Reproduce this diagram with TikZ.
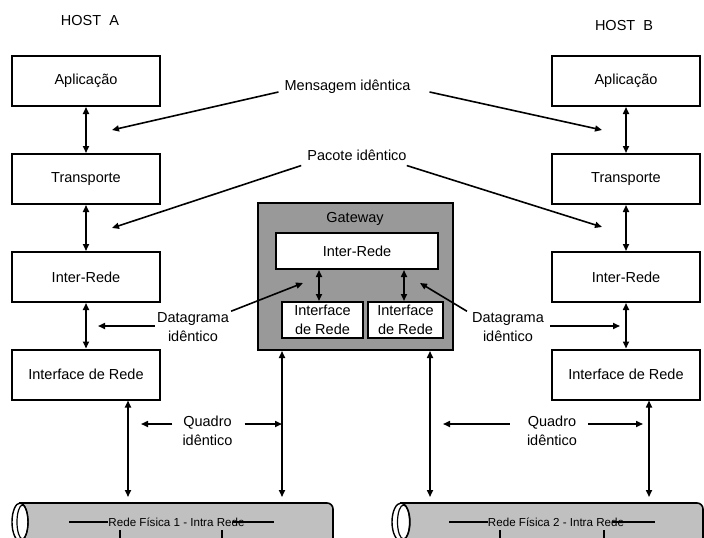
\documentclass[tikz,border=0pt]{standalone}
\usepackage{fontspec}
\setmainfont{Liberation Sans}
\usetikzlibrary{arrows.meta,calc}
\definecolor{gwgray}{HTML}{999999}
\definecolor{pipegray}{HTML}{C0C0C0}
\begin{document}
\begin{tikzpicture}[x=1pt,y=-1pt,
  every node/.style={font=\fontsize{14.5}{19}\selectfont, inner sep=1pt},
  layer/.style={draw, line width=2pt, minimum width=148pt, minimum height=50pt, fill=white},
  conn/.style={line width=1.6pt, -{Triangle[length=7pt,width=6pt]}},
  biconn/.style={line width=1.6pt, {Triangle[length=7pt,width=6pt]}-{Triangle[length=7pt,width=6pt]}},
  lbl/.style={align=center},
  pipe/.style={draw, line width=1.6pt, fill=pipegray},
  pipelbl/.style={font=\fontsize{11.6}{14}\selectfont, inner sep=0pt},
]
\useasboundingbox (0,0) rectangle (704,538);
\clip (0,0) rectangle (704,538);

% ---------- Host A protocol stack ----------
\node (hosta) at (90,21) {HOST\ \ A};
\node[layer] (a1) at (86,81) {Aplicação};
\node[layer] (t1) at (86,179) {Transporte};
\node[layer] (i1) at (86,277) {Inter-Rede};
\node[layer] (n1) at (86,374.5) {Interface de Rede};
\draw[biconn] (a1.south) -- (t1.north);
\draw[biconn] (t1.south) -- (i1.north);
\draw[biconn] (i1.south) -- (n1.north);

% ---------- Host B protocol stack ----------
\node (hostb) at (624,26) {HOST\ \ B};
\node[layer] (a2) at (626,81) {Aplicação};
\node[layer] (t2) at (626,179) {Transporte};
\node[layer] (i2) at (626,277) {Inter-Rede};
\node[layer] (n2) at (626,374.5) {Interface de Rede};
\draw[biconn] (a2.south) -- (t2.north);
\draw[biconn] (t2.south) -- (i2.north);
\draw[biconn] (i2.south) -- (n2.north);

% ---------- Gateway ----------
\node[draw, line width=2pt, fill=gwgray, minimum width=195pt, minimum height=147pt] (gw) at (355.5,276.5) {};
\node (gwlbl) at (355,219) {Gateway};
\node[layer, minimum width=162pt, minimum height=36pt] (gir) at (357,251) {Inter-Rede};
\node[layer, minimum width=81pt, minimum height=36pt, align=center, inner sep=0pt] (gn1) at (322.5,320) {Interface\\de Rede};
\node[layer, minimum width=75pt, minimum height=36pt, align=center, inner sep=0pt] (gn2) at (405.5,320) {Interface\\de Rede};
\coordinate (ga1) at (319,0);
\coordinate (ga2) at (404,0);
\draw[biconn] (gir.south -| ga1) -- (gn1.north -| ga1);
\draw[biconn] (gir.south -| ga2) -- (gn2.north -| ga2);

% ---------- Physical networks ----------
\draw[pipe] (20,503) [rounded corners=6pt] -- (333,503) -- (333,548) [sharp corners] -- (20,548) -- cycle;
\draw[line width=1.4pt, fill=white] (20,522) ellipse [x radius=8, y radius=19];
\draw[line width=1.2pt] (22.5,522) ellipse [x radius=5.5, y radius=17];
\node[pipelbl] (net1) at (176.5,522) {Rede Física 1 - Intra Rede};
\draw[line width=1.4pt] (69,522) -- (net1.west);
\draw[line width=1.4pt] ($(net1.east)+(-12,0)$) -- (274,522);
\draw[line width=1.4pt] (120,530) -- (120,545);
\draw[line width=1.4pt] (222,530) -- (222,545);

\draw[pipe] (401,503) [rounded corners=6pt] -- (703,503) -- (703,548) [sharp corners] -- (401,548) -- cycle;
\draw[line width=1.4pt, fill=white] (401,522) ellipse [x radius=9, y radius=19];
\draw[line width=1.2pt] (403.5,522) ellipse [x radius=6, y radius=17];
\node[pipelbl] (net2) at (556,522) {Rede Física 2 - Intra Rede};
\draw[line width=1.4pt] (449,522) -- (net2.west);
\draw[line width=1.4pt] ($(net2.east)+(-12,0)$) -- (655,522);
\draw[line width=1.4pt] (500,530) -- (500,545);
\draw[line width=1.4pt] (604,530) -- (604,545);

% attachments to the networks
\coordinate (p1a) at (128,497);
\coordinate (p1b) at (282,497);
\coordinate (p2a) at (430,497);
\coordinate (p2b) at (649,497);
\draw[biconn] (n1.south -| p1a) -- (p1a);
\draw[biconn] (gw.south -| p1b) -- (p1b);
\draw[biconn] (gw.south -| p2a) -- (p2a);
\draw[biconn] (n2.south -| p2b) -- (p2b);

% ---------- Peer labels ----------
\node[lbl] (msg) at (347.5,87) {Mensagem idêntica};
\node[lbl] (pac) at (357,155) {Pacote idêntico};
\node[lbl] (dgl) at (193,327) {Datagrama\\idêntico};
\node[lbl] (dgr) at (508,327) {Datagrama\\idêntico};
\node[lbl] (qdl) at (207.5,431) {Quadro\\idêntico};
\node[lbl] (qdr) at (552,431) {Quadro\\idêntico};

\coordinate (msgtipL) at (112,130);
\coordinate (msgtipR) at (602,130);
\coordinate (pactipL) at (112,228);
\coordinate (pactipR) at (602,227);
\coordinate (dgtipL) at (98,326);
\coordinate (dgtipR) at (620,326);
\coordinate (dgtipGL) at (303,283);
\coordinate (dgtipGR) at (420,283);
\coordinate (qdtipL) at (141,424);
\coordinate (qdtipGL) at (282,424);
\coordinate (qdtipGR) at (443,424);
\coordinate (qdtipR) at (643,424);

\draw[conn] ($(msg.west)+(-5,5)$) -- (msgtipL);
\draw[conn] ($(msg.east)+(18,5)$) -- (msgtipR);
\draw[conn] ($(pac.south west)+(-5,4)$) -- (pactipL);
\draw[conn] ($(pac.south east)+(-1,4)$) -- (pactipR);
\draw[conn] ($(dgl.west)+(-1,-1)$) -- (dgtipL);
\draw[conn] ($(dgl.north east)+(1,0)$) -- (dgtipGL);
\draw[conn] ($(dgr.east)+(5,-1)$) -- (dgtipR);
\draw[conn] ($(dgr.north west)+(-4,0)$) -- (dgtipGR);
\draw[conn] ($(qdl.west)+(-9,-7)$) -- (qdtipL);
\draw[conn] ($(qdl.east)+(11,-7)$) -- (qdtipGL);
\draw[conn] ($(qdr.west)+(-16,-7)$) -- (qdtipGR);
\draw[conn] ($(qdr.east)+(10,-7)$) -- (qdtipR);
\end{tikzpicture}
\end{document}
